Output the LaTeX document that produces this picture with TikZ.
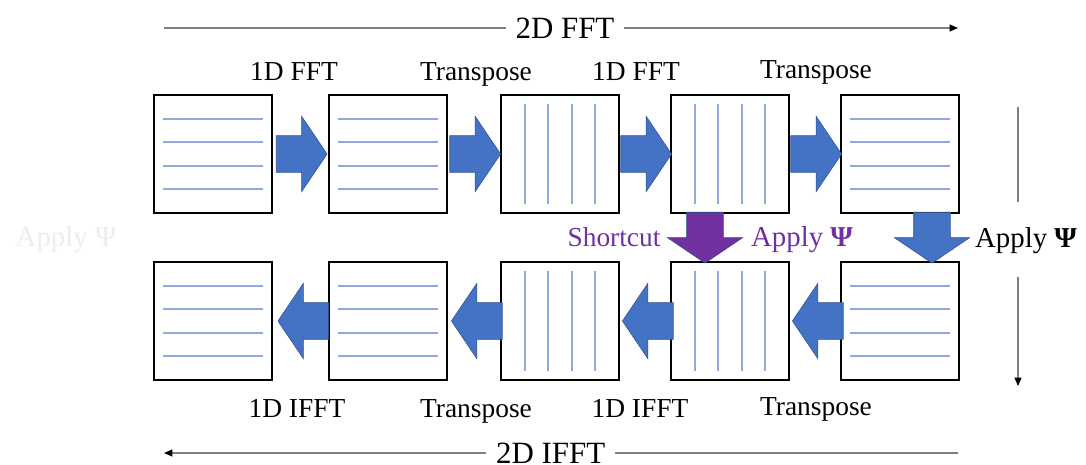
\documentclass[tikz,border=0pt]{standalone}
\usepackage{fontspec}
\setmainfont{Liberation Serif}
\usepackage{xcolor}
\usepackage{tikz}
\usetikzlibrary{shapes}
\usetikzlibrary{arrows}
\usetikzlibrary{calc}
\usetikzlibrary{arrows.meta}
\definecolor{fftblue}{HTML}{4472C4}
\definecolor{fftedge}{HTML}{2F528F}
\definecolor{gridblue}{HTML}{8FAADC}
\definecolor{shortpurple}{HTML}{7030A0}
\definecolor{axisgray}{HTML}{7F7F7F}
\newcommand{\psiop}{\textbf{Ψ}}
\newcommand{\labsize}{\fontsize{19.5}{23}\selectfont}
\newcommand{\applysize}{\fontsize{20.5}{24}\selectfont}
\newcommand{\fftbig}{\fontsize{22}{26}\selectfont}

\begin{document}
\begin{tikzpicture}[x=0.025cm, y=-0.025cm,
  fftbox/.style={draw=black, line width=1.1pt, fill=white, minimum size=2.95cm, inner sep=0pt},
  rowline/.style={gridblue, line width=0.9pt},
  blk/.style={single arrow, draw=fftedge, line width=0.4pt, fill=fftblue,
    inner xsep=0pt, inner ysep=0.45cm, minimum height=1.27cm,
    single arrow head extend=0.4875cm, single arrow tip angle=112, single arrow head indent=0pt},
  downblk/.style={blk, shape border rotate=270, inner xsep=0.45cm, inner ysep=0pt},
  shortblk/.style={downblk, fill=shortpurple},
  lab/.style={font=\labsize, inner sep=0pt, anchor=base},
  applylab/.style={font=\applysize, inner sep=0pt, anchor=base},
  axis/.style={axisgray, line width=0.8pt},
  tip/.style={-{Triangle[black, length=6pt, width=5pt]}}]

  \useasboundingbox (0,0) rectangle (1086,465);

  \foreach \n/\x in {1/213, 2/388, 3/560, 4/730, 5/900} {
    \node[fftbox] (t\n) at (\x, 154) {};
    \node[fftbox] (b\n) at (\x, 321) {};
  }

  \foreach \n in {t1, t2, t5, b1, b2, b5}
    \foreach \d in {-35, -12, 12, 35}
      \draw[rowline] ([shift={(-50,\d)}]\n.center) -- ([shift={(50,\d)}]\n.center);
  \foreach \n in {t3, t4, b3, b4}
    \foreach \d in {-35, -12, 12, 35}
      \draw[rowline] ([shift={(\d,-50)}]\n.center) -- ([shift={(\d,50)}]\n.center);

  \foreach \a/\b in {1/2, 2/3, 3/4, 4/5} {
    \node[blk] (r\a) at ($(t\a.east)!0.5!(t\b.west) + (-5,0)$) {};
    \node[blk, shape border rotate=180] (l\a) at ($(b\a.east)!0.5!(b\b.west) + (9,0)$) {};
  }
  \node[downblk] (d5) at ($(t5.south)!0.5!(b5.north) + (32,-6)$) {};
  \node[shortblk] (d4) at ($(t4.south)!0.5!(b4.north) + (-25,-6)$) {};

  \node[lab] (f1) at (294, 81) {1D FFT};
  \node[lab] (f2) at (476, 81) {Transpose};
  \node[lab] (f3) at (636, 81) {1D FFT};
  \node[lab] (f4) at (816, 79) {Transpose};
  \node[lab] (i1) at (297, 417) {1D IFFT};
  \node[lab] (i2) at (476, 417) {Transpose};
  \node[lab] (i3) at (640, 417) {1D IFFT};
  \node[lab] (i4) at (816, 415) {Transpose};

  \node[lab, text=shortpurple] (sc) at (614, 247) {Shortcut};
  \node[applylab, text=shortpurple] (ap) at (802, 247) {Apply \psiop};
  \node[applylab] (apr) at (1026, 248) {Apply \psiop};
  \node[applylab, text=black!7] (apl) at (66, 247) {Apply Ψ};

  \coordinate (fa) at (164, 28);
  \coordinate (fb) at (958, 28);
  \coordinate (ia) at (958, 453);
  \coordinate (ib) at (164, 453);
  \coordinate (va) at (1018, 107);
  \coordinate (vb) at (1018, 202);
  \coordinate (vc) at (1018, 277);
  \coordinate (vd) at (1018, 386);

  \draw[axis, tip] (fa) -- node[pos=0.505, fill=white, inner xsep=0.25cm, inner ysep=0pt, text=black, font=\fftbig] {2D FFT} (fb);
  \draw[axis, tip] (ia) -- node[pos=0.513, fill=white, inner xsep=0.25cm, inner ysep=0pt, text=black, font=\fftbig] {2D IFFT} (ib);
  \draw[axis] (va) -- (vb);
  \draw[axis, tip] (vc) -- (vd);
\end{tikzpicture}
\end{document}
